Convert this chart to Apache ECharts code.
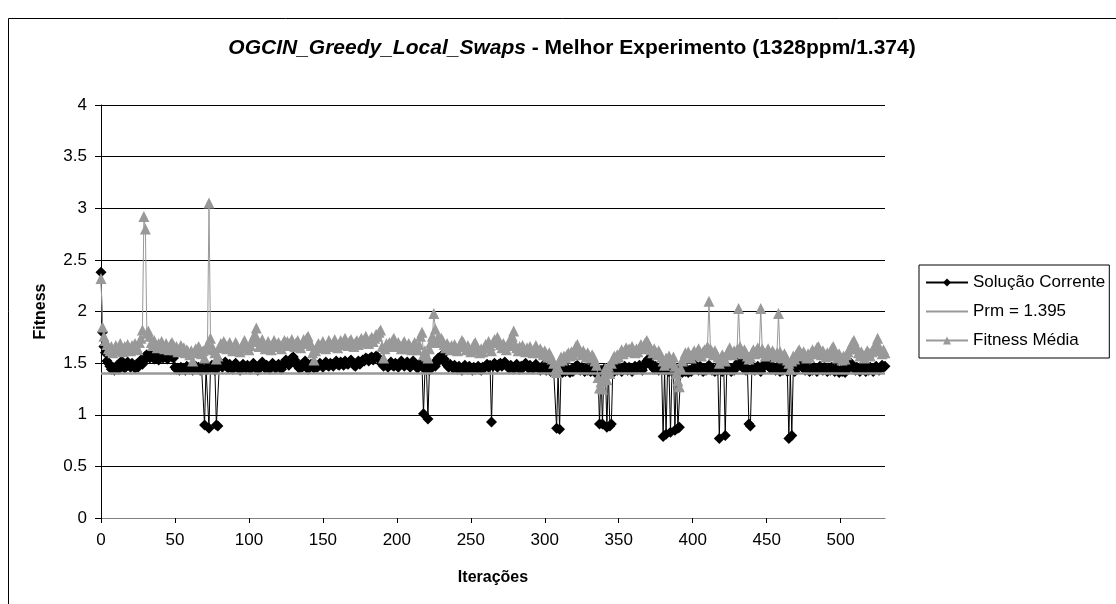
<!DOCTYPE html>
<html>
<head>
<meta charset="utf-8">
<script src="https://cdn.jsdelivr.net/npm/echarts@6/dist/echarts.min.js"></script>
<style>html,body{margin:0;padding:0;background:#fff;}#c{width:1116px;height:604px;}</style>
</head>
<body>
<div id="c"></div>
<script>
// Solução Corrente (iterations 0..530)
const solucao = [
2.38,1.80,1.66,1.60,1.52,1.50,1.47,1.44,1.46,1.43,
1.45,1.48,1.44,1.50,1.52,1.47,1.45,1.49,1.51,1.48,
1.46,1.50,1.47,1.45,1.49,1.46,1.50,1.53,1.49,1.52,
1.57,1.58,1.57,1.55,1.58,1.56,1.54,1.57,1.55,1.53,
1.56,1.58,1.55,1.57,1.56,1.54,1.57,1.58,1.56,1.55,
1.46,1.44,1.45,1.43,1.46,1.44,1.45,1.43,1.47,1.45,
1.44,1.46,1.43,1.45,1.47,1.44,1.46,1.43,1.45,1.44,
0.90,1.45,1.44,0.87,1.46,1.48,1.45,1.43,0.90,0.89,
1.47,1.50,1.46,1.48,1.51,1.47,1.45,1.49,1.46,1.44,
1.48,1.50,1.47,1.45,1.43,1.46,1.49,1.47,1.45,1.48,
1.46,1.44,1.47,1.50,1.48,1.45,1.43,1.46,1.49,1.51,
1.47,1.45,1.48,1.46,1.44,1.47,1.50,1.48,1.45,1.47,
1.49,1.46,1.44,1.48,1.51,1.53,1.50,1.48,1.52,1.55,
1.56,1.53,1.50,1.47,1.45,1.48,1.46,1.49,1.52,1.47,
1.44,1.46,1.49,1.47,1.45,1.48,1.46,1.47,1.50,1.48,
1.46,1.49,1.51,1.48,1.47,1.50,1.49,1.47,1.50,1.52,
1.49,1.48,1.51,1.50,1.48,1.52,1.50,1.49,1.51,1.53,
1.50,1.48,1.47,1.50,1.52,1.49,1.51,1.53,1.52,1.55,
1.54,1.52,1.55,1.56,1.53,1.55,1.57,1.56,1.54,1.52,
1.49,1.47,1.50,1.48,1.46,1.49,1.51,1.48,1.47,1.50,
1.48,1.46,1.49,1.52,1.50,1.47,1.49,1.51,1.48,1.46,
1.49,1.52,1.50,1.47,1.45,1.48,1.50,1.47,1.01,1.44,
1.46,0.96,1.43,1.45,1.48,1.50,1.47,1.52,1.55,1.53,
1.57,1.58,1.54,1.50,1.48,1.46,1.49,1.47,1.45,1.48,
1.46,1.44,1.47,1.45,1.43,1.46,1.48,1.45,1.44,1.47,
1.45,1.43,1.46,1.44,1.45,1.47,1.44,1.43,1.46,1.45,
1.47,1.49,1.46,1.48,0.93,1.47,1.50,1.48,1.46,1.49,
1.50,1.47,1.49,1.51,1.48,1.46,1.45,1.48,1.46,1.44,
1.47,1.49,1.46,1.44,1.47,1.45,1.48,1.50,1.47,1.45,
1.48,1.46,1.44,1.47,1.49,1.46,1.45,1.43,1.46,1.48,
1.45,1.43,1.46,1.44,1.42,1.45,1.43,1.44,0.87,1.42,
0.86,1.43,1.41,1.44,1.42,1.45,1.43,1.41,1.44,1.42,
1.45,1.47,1.48,1.45,1.43,1.46,1.44,1.42,1.45,1.43,
1.44,1.42,1.45,1.43,1.41,1.44,1.42,0.91,1.43,0.91,
1.44,1.42,0.88,1.43,0.89,0.91,1.44,1.42,1.45,1.43,
1.46,1.44,1.42,1.45,1.47,1.44,1.43,1.46,1.44,1.42,
1.45,1.47,1.44,1.46,1.48,1.45,1.43,1.47,1.50,1.52,
1.54,1.51,1.48,1.46,1.44,1.47,1.45,1.43,1.46,1.44,
0.79,1.43,0.81,1.44,1.42,0.83,1.43,1.45,0.85,1.44,
0.87,0.88,1.43,1.41,1.43,1.42,1.44,1.41,1.43,1.42,
1.44,1.46,1.48,1.45,1.43,1.47,1.44,1.42,1.45,1.43,
1.46,1.48,1.45,1.43,1.44,1.42,1.45,1.43,0.77,1.44,
1.42,1.45,0.80,1.43,1.46,1.44,1.42,1.45,1.43,1.47,
1.49,1.51,1.48,1.50,1.46,1.44,1.43,1.45,0.91,0.89,
1.44,1.46,1.43,1.45,1.47,1.44,1.42,1.45,1.48,1.50,
1.52,1.49,1.46,1.44,1.47,1.45,1.43,1.46,1.44,1.42,
1.45,1.43,1.46,1.44,1.42,0.77,1.43,0.80,1.44,1.42,
1.45,1.47,1.49,1.50,1.47,1.45,1.43,1.46,1.44,1.42,
1.45,1.43,1.46,1.44,1.42,1.45,1.47,1.44,1.43,1.46,
1.44,1.42,1.45,1.43,1.46,1.44,1.42,1.45,1.43,1.41,
1.43,1.42,1.44,1.41,1.43,1.46,1.48,1.50,1.47,1.45,
1.43,1.46,1.44,1.42,1.45,1.47,1.44,1.42,1.45,1.43,
1.46,1.44,1.42,1.45,1.47,1.45,1.43,1.46,1.48,1.46,
1.47
];
// Fitness Média (iterations 0..530)
const fitnessMedia = [
2.32,1.85,1.76,1.72,1.68,1.64,1.62,1.66,1.60,1.63,
1.67,1.62,1.65,1.69,1.64,1.61,1.66,1.63,1.68,1.65,
1.62,1.67,1.64,1.69,1.66,1.63,1.70,1.74,1.82,2.92,
2.80,1.79,1.81,1.76,1.70,1.67,1.72,1.68,1.65,1.69,
1.66,1.71,1.67,1.64,1.69,1.66,1.63,1.68,1.70,1.67,
1.63,1.66,1.61,1.64,1.67,1.62,1.65,1.60,1.63,1.61,
1.58,1.62,1.52,1.60,1.64,1.61,1.66,1.63,1.59,1.62,
1.55,1.64,1.68,3.05,1.74,1.66,1.63,1.60,1.54,1.57,
1.65,1.69,1.66,1.71,1.68,1.64,1.67,1.70,1.65,1.62,
1.66,1.70,1.67,1.63,1.61,1.65,1.69,1.72,1.68,1.65,
1.63,1.67,1.71,1.75,1.78,1.84,1.72,1.66,1.69,1.73,
1.68,1.64,1.67,1.71,1.66,1.63,1.68,1.72,1.69,1.66,
1.70,1.67,1.64,1.69,1.72,1.68,1.71,1.67,1.70,1.73,
1.69,1.66,1.70,1.72,1.68,1.65,1.69,1.73,1.70,1.74,
1.76,1.71,1.67,1.60,1.53,1.62,1.66,1.69,1.65,1.68,
1.71,1.67,1.64,1.68,1.72,1.69,1.66,1.70,1.73,1.68,
1.65,1.69,1.72,1.68,1.71,1.74,1.70,1.67,1.71,1.73,
1.69,1.66,1.70,1.72,1.68,1.71,1.74,1.70,1.73,1.76,
1.72,1.69,1.73,1.75,1.71,1.74,1.78,1.76,1.80,1.82,
1.66,1.55,1.64,1.69,1.66,1.70,1.68,1.72,1.74,1.69,
1.66,1.70,1.67,1.64,1.68,1.71,1.67,1.64,1.69,1.66,
1.63,1.67,1.70,1.66,1.63,1.68,1.76,1.80,1.58,1.62,
1.57,1.55,1.64,1.70,1.76,1.98,1.83,1.72,1.75,1.70,
1.74,1.72,1.68,1.65,1.69,1.66,1.63,1.67,1.64,1.68,
1.65,1.62,1.66,1.69,1.72,1.70,1.66,1.63,1.67,1.64,
1.61,1.65,1.68,1.70,1.66,1.63,1.60,1.64,1.61,1.65,
1.68,1.65,1.71,1.67,1.62,1.70,1.73,1.71,1.75,1.72,
1.68,1.65,1.69,1.66,1.63,1.67,1.70,1.74,1.76,1.81,
1.68,1.65,1.62,1.66,1.63,1.67,1.64,1.61,1.65,1.62,
1.66,1.63,1.60,1.64,1.67,1.63,1.60,1.64,1.61,1.58,
1.62,1.59,1.56,1.60,1.57,1.54,1.50,1.43,1.41,1.46,
1.52,1.56,1.53,1.57,1.55,1.58,1.60,1.57,1.61,1.58,
1.62,1.66,1.68,1.64,1.61,1.58,1.62,1.59,1.56,1.60,
1.57,1.55,1.58,1.56,1.52,1.48,1.36,1.26,1.32,1.25,
1.38,1.45,1.34,1.47,1.40,1.50,1.54,1.57,1.55,1.58,
1.56,1.60,1.63,1.59,1.62,1.65,1.61,1.64,1.62,1.66,
1.63,1.60,1.64,1.61,1.65,1.68,1.64,1.67,1.70,1.72,
1.69,1.66,1.63,1.60,1.64,1.61,1.58,1.62,1.59,1.56,
1.52,1.48,1.55,1.51,1.57,1.54,1.50,1.56,1.47,1.40,
1.33,1.27,1.45,1.52,1.56,1.60,1.57,1.61,1.58,1.55,
1.59,1.62,1.58,1.61,1.64,1.60,1.57,1.61,1.63,1.60,
1.66,2.10,1.64,1.61,1.58,1.62,1.59,1.56,1.50,1.55,
1.58,1.56,1.52,1.58,1.62,1.65,1.61,1.58,1.62,1.60,
1.63,2.03,1.66,1.62,1.59,1.63,1.60,1.57,1.54,1.56,
1.60,1.63,1.59,1.62,1.65,1.61,2.03,1.64,1.60,1.57,
1.61,1.64,1.60,1.58,1.62,1.59,1.56,1.60,1.98,1.61,
1.58,1.55,1.59,1.56,1.53,1.50,1.44,1.52,1.57,1.54,
1.58,1.61,1.63,1.60,1.57,1.61,1.58,1.55,1.59,1.56,
1.60,1.63,1.59,1.62,1.65,1.66,1.61,1.58,1.62,1.59,
1.56,1.60,1.57,1.61,1.64,1.66,1.62,1.58,1.55,1.59,
1.56,1.53,1.57,1.54,1.58,1.61,1.64,1.66,1.70,1.72,
1.68,1.64,1.60,1.57,1.61,1.58,1.55,1.59,1.62,1.60,
1.57,1.61,1.64,1.66,1.69,1.74,1.66,1.62,1.59,1.63,
1.60
];
const prm = 1.395;
const iteracoes = solucao.map((_, i) => String(i));

const FONT = "'Liberation Sans', Arial, sans-serif";
const chart = echarts.init(document.getElementById('c'), null, {renderer: 'canvas'});
chart.setOption({
  animation: false,
  backgroundColor: '#fff',
  textStyle: {fontFamily: FONT, color: '#000'},
  graphic: [
    {type: 'rect', shape: {x: 8.5, y: 18.5, width: 1130, height: 620}, style: {fill: 'none', stroke: '#000', lineWidth: 1}, silent: true, z: -1},
    {type: 'text', x: 572, y: 48, style: {
      text: '{i|OGCIN_Greedy_Local_Swaps}{b| - Melhor Experimento (1328ppm/1.374)}',
      textAlign: 'center', textVerticalAlign: 'middle',
      rich: {
        i: {fontFamily: FONT, fontSize: 21, fontWeight: 'bold', fontStyle: 'italic', fill: '#000'},
        b: {fontFamily: FONT, fontSize: 21, fontWeight: 'bold', fill: '#000'}
      }
    }}
  ],
  grid: {left: 101, right: 231, top: 105, bottom: 86, containLabel: false},
  legend: {
    orient: 'vertical', left: 919, top: 265,
    borderColor: '#000', borderWidth: 1, borderRadius: 0,
    padding: [9, 4, 9, 6], itemGap: 12,
    itemWidth: 42, itemHeight: 10,
    textStyle: {fontFamily: FONT, fontSize: 17, color: '#000'},
    data: [
      {name: 'Solução Corrente'},
      {name: 'Prm = 1.395', itemStyle: {color: 'rgba(0,0,0,0)', opacity: 0, borderWidth: 0}},
      {name: 'Fitness Média'}
    ]
  },
  xAxis: {
    type: 'category', data: iteracoes, boundaryGap: false,
    name: 'Iterações', nameLocation: 'middle', nameGap: 52,
    nameTextStyle: {fontFamily: FONT, fontSize: 16, fontWeight: 'bold', color: '#000'},
    axisLine: {lineStyle: {color: '#808080', width: 1}},
    axisTick: {interval: 49, length: 5, lineStyle: {color: '#000'}},
    axisLabel: {interval: 49, margin: 14, fontFamily: FONT, fontSize: 17, color: '#000'},
    splitLine: {show: false}
  },
  yAxis: {
    type: 'value', min: 0, max: 4, interval: 0.5,
    name: 'Fitness', nameLocation: 'middle', nameGap: 52, nameRotate: 90,
    nameTextStyle: {fontFamily: FONT, fontSize: 16, fontWeight: 'bold', color: '#000'},
    axisLine: {show: true, lineStyle: {color: '#000', width: 1}},
    axisTick: {show: true, length: 6, lineStyle: {color: '#000'}},
    axisLabel: {margin: 14, fontFamily: FONT, fontSize: 17, color: '#000', formatter: v => String(v)},
    splitLine: {show: true, lineStyle: {color: '#000', width: 1}}
  },
  series: [
    {
      name: 'Solução Corrente', type: 'line', data: solucao,
      symbol: 'diamond', symbolSize: 11, showAllSymbol: true, showSymbol: true,
      itemStyle: {color: '#000'}, lineStyle: {color: '#000', width: 1}, z: 3
    },
    {
      name: 'Prm = 1.395', type: 'line', data: [],
      symbol: 'none', itemStyle: {color: '#999999'}, lineStyle: {color: '#999999', width: 2.5},
      markLine: {silent: true, symbol: 'none', label: {show: false},
        lineStyle: {color: '#999999', width: 2.5, type: 'solid'},
        data: [{yAxis: prm}]}, z: 2
    },
    {
      name: 'Fitness Média', type: 'line', data: fitnessMedia,
      symbol: 'triangle', symbolSize: 11, showAllSymbol: true, showSymbol: true,
      itemStyle: {color: '#999999'}, lineStyle: {color: '#999999', width: 1}, z: 4
    }
  ]
});
</script>
</body>
</html>
